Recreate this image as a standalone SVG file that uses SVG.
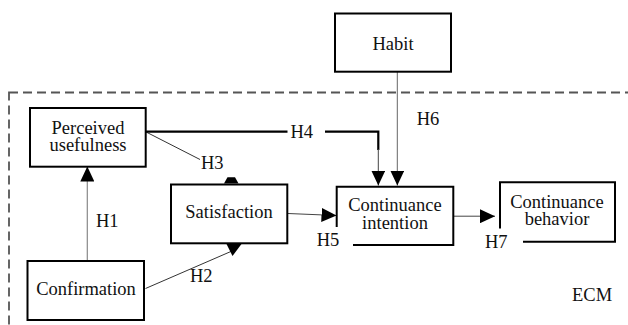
<svg xmlns="http://www.w3.org/2000/svg" width="628" height="325" viewBox="0 0 628 325">
<defs>
<marker id="ah" markerUnits="userSpaceOnUse" markerWidth="15" markerHeight="14" refX="15" refY="7" orient="auto">
<path d="M0,0 L15,7 L0,14 z" fill="#000"/>
</marker>
</defs>
<rect x="9" y="92.5" width="640" height="260" fill="none" stroke="#555" stroke-width="1.8" stroke-dasharray="9,5"/>
<text x="572" y="301" font-family="Liberation Serif" font-size="18.5" fill="#111">ECM</text>
<g id="connectors">
<line x1="87.3" y1="261" x2="87.3" y2="166.5" stroke="#888" stroke-width="1.2" marker-end="url(#ah)"/>
<line x1="145.5" y1="288.5" x2="232" y2="251" stroke="#333" stroke-width="1"/>
<polygon points="226.5,244 241.5,244 232.5,256" fill="#000"/>
<line x1="145.5" y1="131.7" x2="200" y2="159.5" stroke="#333" stroke-width="1"/>
<polygon points="224,183.5 227.5,177.2 235,177.2 238.5,183.5" fill="#000"/>
<line x1="146" y1="131.7" x2="287.5" y2="131.7" stroke="#000" stroke-width="2.2"/>
<path d="M325,131.7 H378.3 V150" fill="none" stroke="#000" stroke-width="2.2"/>
<line x1="378.3" y1="149" x2="378.3" y2="185.5" stroke="#444" stroke-width="1" marker-end="url(#ah)"/>
<line x1="288" y1="213.5" x2="336.5" y2="215.5" stroke="#444" stroke-width="1" marker-end="url(#ah)"/>
<line x1="397.3" y1="72" x2="397.3" y2="185.5" stroke="#666" stroke-width="1" marker-end="url(#ah)"/>
<line x1="454" y1="216.2" x2="495" y2="216.2" stroke="#444" stroke-width="1" marker-end="url(#ah)"/>
<g font-family="Liberation Serif" font-size="18.5" fill="#111">
<text x="96" y="227">H1</text>
<text x="190" y="282">H2</text>
<text x="201" y="169">H3</text>
<text x="290.5" y="138.3">H4</text>
<text x="316.7" y="246">H5</text>
<text x="416.7" y="125">H6</text>
<text x="485" y="248">H7</text>
</g>
</g>
<g font-family="Liberation Serif" font-size="18.5" text-anchor="middle">
<g id="perceived-usefulness">
<rect x="30" y="108" width="115.7" height="58.7" fill="#fff" stroke="#000" stroke-width="2"/>
<text x="88" y="133.5" fill="#111">Perceived</text>
<text x="88" y="151" fill="#111">usefulness</text>
</g>
<g id="habit">
<rect x="335" y="13.5" width="116" height="58.2" fill="#fff" stroke="#000" stroke-width="2"/>
<text x="393" y="50" fill="#111">Habit</text>
</g>
<g id="satisfaction">
<rect x="171" y="184.5" width="116.3" height="58.8" fill="#fff" stroke="#000" stroke-width="2"/>
<text x="229" y="218" fill="#111">Satisfaction</text>
</g>
<g id="confirmation">
<rect x="27.5" y="261" width="116.5" height="59" fill="#fff" stroke="#000" stroke-width="2"/>
<text x="86" y="295" fill="#111">Confirmation</text>
</g>
<g id="continuance-intention">
<path d="M353,245 H453.3 V186.7 H336.7 V227" fill="#fff" stroke="#000" stroke-width="2"/>
<text x="395" y="211" fill="#111">Continuance</text>
<text x="395" y="228.5" fill="#111">intention</text>
</g>
<g id="continuance-behavior">
<path d="M523,241.7 H615 V182.3 H500 V228.5" fill="#fff" stroke="#000" stroke-width="2"/>
<text x="557" y="207.5" fill="#111">Continuance</text>
<text x="557" y="225" fill="#111">behavior</text>
</g>
</g>
</svg>
